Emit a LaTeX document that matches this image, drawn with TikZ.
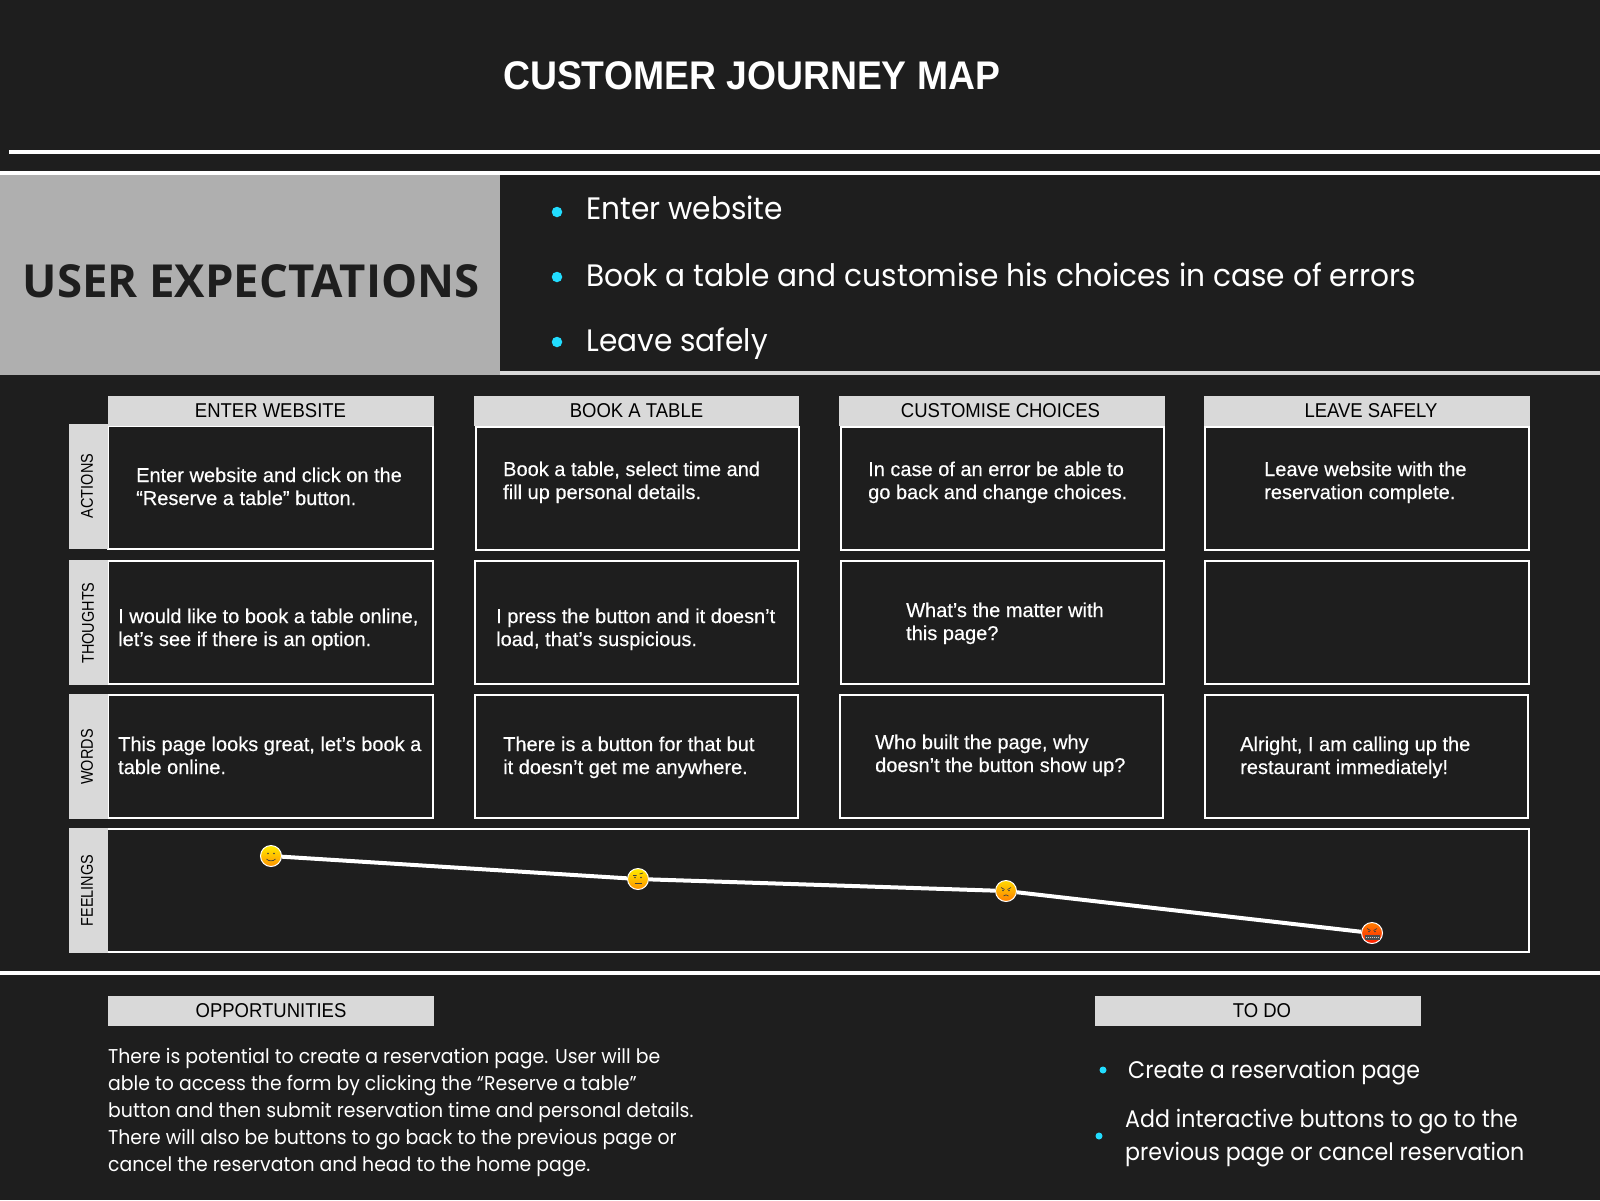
\documentclass[tikz,border=0pt]{standalone}
\usepackage{fontspec}
\usepackage{tikz}
\setmainfont{Liberation Sans}
\newfontfamily\titlefont[FakeStretch=0.933]{Liberation Sans}
\newfontfamily\bannerfont{Open Sans}
\newfontfamily\cellfont[FakeBold=0.4]{Liberation Sans}
\newfontfamily\headfont[FakeStretch=0.925]{Liberation Sans}
\newfontfamily\sidefont[FakeStretch=0.85]{Liberation Sans}
\newfontfamily\listfont[FakeStretch=0.956]{Poppins}
\newfontfamily\parafont[FakeStretch=0.943]{Poppins}
\newfontfamily\todofont[FakeStretch=0.922]{Poppins}
\definecolor{pagedark}{HTML}{1E1E1E}
\definecolor{paneltone}{HTML}{D9D9D9}
\definecolor{bannertone}{HTML}{AFAFAF}
\definecolor{dotcyan}{HTML}{22DDFF}
\tikzset{
  cell/.style={draw=white,line width=2pt,fill=pagedark,minimum width=323pt,minimum height=123pt,inner sep=0pt},
  panel/.style={fill=paneltone,minimum width=325.5pt,minimum height=29.5pt,inner sep=0pt,text=black,font=\headfont\fontsize{20}{24}\selectfont},
  side/.style={fill=paneltone,minimum width=39pt,minimum height=125pt,inner sep=0pt},
  sidetxt/.style={rotate=90,inner sep=0pt,text=black,font=\sidefont\fontsize{17}{20}\selectfont},
  celltxt/.style={anchor=base west,align=left,inner sep=0pt,text=white,font=\cellfont\fontsize{20}{23}\selectfont},
  listtxt/.style={anchor=base west,align=left,inner sep=0pt,text=white,font=\listfont\fontsize{31}{36}\selectfont},
  todotxt/.style={anchor=base west,align=left,inner sep=0pt,text=white,font=\todofont\fontsize{24}{33}\selectfont},
  bullet/.style={circle,fill=dotcyan,inner sep=0pt,minimum size=10.5pt},
  smallbullet/.style={circle,fill=dotcyan,inner sep=0pt,minimum size=7pt},
  mood/.style={circle,draw=white,line width=1pt,inner sep=0pt,minimum size=21pt},
  feature/.style={line width=.7pt,draw=black!75}
}
\begin{document}
\begin{tikzpicture}[x=1pt,y=-1pt]
  \useasboundingbox (0,0) rectangle (1600,1200);
  \fill[pagedark] (0,0) rectangle (1600,1200);
  % title and rules
  \node (title) at (503,89) [anchor=base west,inner sep=0pt,text=white,font=\titlefont\bfseries\fontsize{40}{48}\selectfont] {CUSTOMER JOURNEY MAP};
  \fill[white] (9,150) rectangle (1600,154);
  \fill[white] (0,171) rectangle (1600,175);
  \fill[paneltone] (500,371) rectangle (1600,375);
  \fill[white] (0,971) rectangle (1600,975);
  % expectations
  \node (banner) at (250,275) [fill=bannertone,minimum width=500pt,minimum height=200pt,inner sep=0pt] {};
  \node (bannertxt) at (22.5,297) [anchor=base west,inner sep=0pt,text=pagedark,font=\bannerfont\bfseries\fontsize{45.5}{50}\selectfont] {USER EXPECTATIONS};
  \node (dot1) at (557,212) [bullet] {};
  \node (dot2) at (557,277) [bullet] {};
  \node (dot3) at (557,342) [bullet] {};
  \node (exp1) at (586,219) [listtxt] {Enter website};
  \node (exp2) at (586,286) [listtxt] {Book a table and customise his choices in case of errors};
  \node (exp3) at (586,351) [listtxt] {Leave safely};
  % cells
  \node (act1) at (270,487.5) [cell,minimum width=325pt] {};
  \node (act2) at (637.5,488) [cell] {};
  \node (act3) at (1002.5,488) [cell] {};
  \node (act4) at (1366.5,488) [cell,minimum width=324pt] {};
  \node (tho1) at (270,622.5) [cell,minimum width=325pt] {};
  \node (tho2) at (636.5,622.5) [cell] {};
  \node (tho3) at (1002.5,622.5) [cell] {};
  \node (tho4) at (1366.5,622.5) [cell,minimum width=324pt] {};
  \node (wor1) at (270,756.5) [cell,minimum width=325pt] {};
  \node (wor2) at (636.5,756.5) [cell] {};
  \node (wor3) at (1001.5,756.5) [cell] {};
  \node (wor4) at (1366,756.5) [cell] {};
  \node (feel) at (818,890.5) [cell,minimum width=1422pt] {};
  % column heads
  \node (head1) at (271,411) [panel] {\hspace*{-1pt}ENTER WEBSITE};
  \node (head2) at (636.5,411) [panel] {BOOK A TABLE};
  \node (head3) at (1002,411) [panel] {\hspace*{-3pt}CUSTOMISE CHOICES};
  \node (head4) at (1367,411) [panel] {\hspace*{8pt}LEAVE SAFELY};
  % row labels
  \node (side1) at (88.5,486.5) [side] {};
  \node (side2) at (88.5,622.5) [side] {};
  \node (side3) at (88.5,756) [side] {};
  \node (side4) at (88.5,890.5) [side] {};
  \node (lab1) at (87,486) [sidetxt] {ACTIONS};
  \node (lab2) at (88,623) [sidetxt] {THOUGHTS};
  \node (lab3) at (87,757) [sidetxt] {WORDS};
  \node (lab4) at (87,890.5) [sidetxt] {FEELINGS};
  % cell texts
  \node (acttxt1) at (136,505) [celltxt] {Enter website and click on the\\“Reserve a table” button.};
  \node (acttxt2) at (503,499) [celltxt] {Book a table, select time and\\fill up personal details.};
  \node (acttxt3) at (868,499) [celltxt] {In case of an error be able to\\go back and change choices.};
  \node (acttxt4) at (1264,499) [celltxt] {Leave website with the\\reservation complete.};
  \node (thotxt1) at (118,646) [celltxt] {I would like to book a table online,\\let’s see if there is an option.};
  \node (thotxt2) at (496,646) [celltxt] {I press the button and it doesn’t\\load, that’s suspicious.};
  \node (thotxt3) at (906,640) [celltxt] {What’s the matter with\\this page?};
  \node (wortxt1) at (118,774) [celltxt] {This page looks great, let’s book a\\table online.};
  \node (wortxt2) at (503,774) [celltxt] {There is a button for that but\\it doesn’t get me anywhere.};
  \node (wortxt3) at (875,772) [celltxt] {Who built the page, why\\doesn’t the button show up?};
  \node (wortxt4) at (1240,774) [celltxt] {Alright, I am calling up the\\restaurant immediately!};
  % feelings
  \node (mood1) at (271,856) [mood,shade,top color=yellow!85!orange,bottom color=orange!85!yellow] {};
  \node (mood2) at (638,879) [mood,shade,top color=yellow!85!orange,bottom color=orange!85!yellow] {};
  \node (mood3) at (1006,891) [mood,shade,top color=yellow!70!orange,bottom color=orange] {};
  \node (mood4) at (1372,933) [mood,shade,top color=orange,bottom color=red!80!orange] {};
  \draw[white,line width=4pt] (mood1) to (mood2) to (mood3) to (mood4);
  \begin{scope}[shift={(271,856)}]
    \fill[black!75] (-3,-2.5) circle (.9pt) (3,-2.5) circle (.9pt);
    \draw[feature] (-4.5,3) .. controls (-2,5.5) and (2,5.5) .. (4.5,3);
  \end{scope}
  \begin{scope}[shift={(638,879)}]
    \fill[black!75] (-3,-1.5) circle (.9pt) (3,-1.5) circle (.9pt);
    \draw[feature] (-5,-3.5) -- (-1.5,-3.5) (1.5,-5) -- (5,-6);
    \draw[feature] (-3.5,4) -- (3.5,4);
  \end{scope}
  \begin{scope}[shift={(1006,891)}]
    \fill[black!75] (-3,-.5) circle (.9pt) (3,-.5) circle (.9pt);
    \draw[feature] (-5,-3.5) -- (-1.5,-1.5) (5,-3.5) -- (1.5,-1.5);
    \draw[feature] (-2.5,5) .. controls (-1,3.5) and (1,3.5) .. (2.5,5);
  \end{scope}
  \begin{scope}[shift={(1372,933)}]
    \fill[black!75] (-3,-1.5) circle (.9pt) (3,-1.5) circle (.9pt);
    \draw[feature] (-5,-4.5) -- (-1.5,-2.5) (5,-4.5) -- (1.5,-2.5);
    \fill[black!70] (-7.5,2) rectangle (7.5,6.5);
    \draw[white!80!black,line width=.5pt,dash pattern=on 1pt off 1pt] (-6.5,4.2) -- (6.5,4.2);
  \end{scope}
  % bottom panels
  \node (opp) at (271,1011) [panel] {OPPORTUNITIES};
  \node (todo) at (1258,1011) [panel] {\hspace*{8pt}TO DO};
  \node (opptxt) at (108,1171) [anchor=base west,align=left,inner sep=0pt,text=white,font=\parafont\fontsize{20}{27}\selectfont] {There is potential to create a reservation page. User will be\\able to access the form by clicking the “Reserve a table”\\button and then submit reservation time and personal details.\\There will also be buttons to go back to the previous page or\\cancel the reservaton and head to the home page.};
  \node (dot4) at (1103,1070) [smallbullet] {};
  \node (dot5) at (1099,1136) [smallbullet] {};
  \node (todotxt1) at (1128,1078) [todotxt] {Create a reservation page};
  \node (todotxt2) at (1125,1160) [todotxt] {Add interactive buttons to go to the\\previous page or cancel reservation};
\end{tikzpicture}
\end{document}
